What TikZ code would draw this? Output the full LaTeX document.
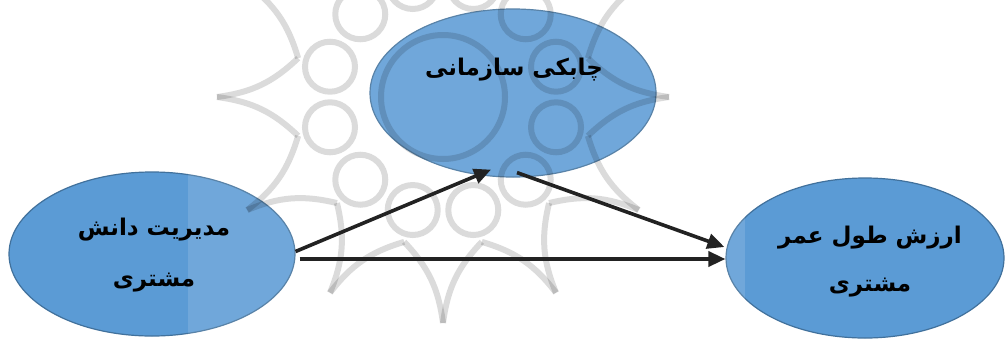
\documentclass[tikz,border=0pt]{standalone}
\usepackage{fontspec}
\usetikzlibrary{shapes.geometric,arrows.meta,calc}
\TeXXeTstate=1
\newfontfamily\arabicfont[Script=Arabic,BoldFont={DejaVu Sans Bold}]{DejaVu Sans}
\definecolor{ellfill}{HTML}{5B9BD5}
\definecolor{elldraw}{HTML}{41719C}
\definecolor{arrowc}{HTML}{222222}
\tikzset{
  bubble/.style={ellipse, draw=elldraw, line width=1.2pt, fill=ellfill, inner sep=0pt},
  lbl/.style={font=\arabicfont\bfseries\fontsize{23}{23}\selectfont, text=black, inner sep=0pt},
  conn/.style={draw=arrowc, line width=3.6pt, -{Triangle[length=17pt,width=15pt]}},
  wm/.style={draw=black, draw opacity=0.14, line width=6pt},
}
\begin{document}
\begin{tikzpicture}[x=1pt,y=-1pt]
\useasboundingbox (0,0) rectangle (1006,338);
\fill[white] (0,0) rectangle (1006,338);
% ellipses
\node[bubble, minimum width=286pt, minimum height=164pt] (L) at (152,254) {};
\node[bubble, minimum width=286pt, minimum height=168pt] (T) at (513,93) {};
\node[bubble, minimum width=278pt, minimum height=160pt] (R) at (865,258) {};
% watermark
\fill[white, opacity=0.13] (188,0) rectangle (745,338);
\begin{scope}[shift={(443,97)}]
  \foreach \a in {15,45,...,345} {
    \draw[wm] (\a:117) circle (25);
  }
  \foreach \a in {0,30,...,330} {
    \draw[wm] (\a:226) to[bend right=18] (\a+15:150);
    \draw[wm] (\a:226) to[bend left=18] (\a-15:150);
  }
  \draw[wm] (0,0) circle (62);
\end{scope}
% labels
\node[lbl] (Lt1) at (154,230) {\beginR مدیریت دانش\endR};
\node[lbl] (Lt2) at (154,283) {\beginR مشتری\endR};
\node[lbl] (Tt) at (514,70) {\beginR چابکی سازمانی\endR};
\node[lbl] (Rt1) at (870,238) {\beginR ارزش طول عمر\endR};
\node[lbl] (Rt2) at (870,288) {\beginR مشتری\endR};
% connectors
\draw[conn] (L.1) -- ($(T.south)+(-22,-8)$);
\draw[conn] ($(T.south)+(4,-5)$) -- ($(R.west)+(-1,-11)$);
\coordinate (hs) at ($(L.east)+(4,5)$);
\draw[conn] (hs) -- (hs -| R.west);
\end{tikzpicture}
\end{document}
